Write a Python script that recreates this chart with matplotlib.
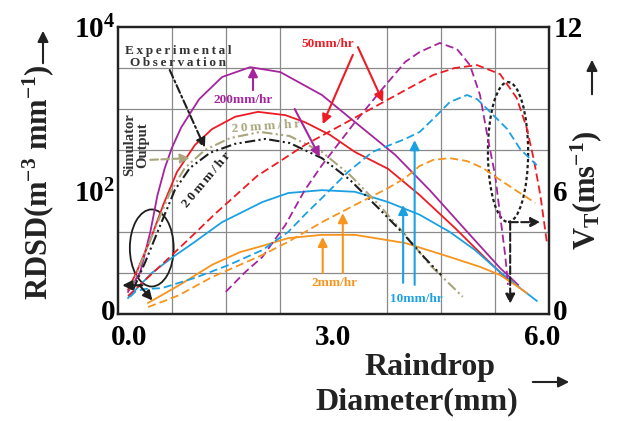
import matplotlib
matplotlib.use('Agg')
import matplotlib.pyplot as plt
from matplotlib.patches import Ellipse, FancyArrowPatch
from matplotlib.transforms import ScaledTranslation
import numpy as np

plt.rcParams['font.family'] = ['Liberation Serif', 'DejaVu Serif']
plt.rcParams['font.weight'] = 'bold'
plt.rcParams['mathtext.default'] = 'regular'

PURPLE = '#a4259d'
RED = '#ed1c24'
BLUE = '#1ba1e2'
ORANGE = '#f7941d'
OLIVE = '#a9a57c'
BLACK = '#1e1e1e'

# y values are plotted in grid rows (0..7); left axis RDSD, right axis V_T
# ---- RDSD, solid lines ----
d_rdsd_200 = [0.14, 0.31, 0.45, 0.55, 0.65, 0.75, 0.88, 1.13, 1.45, 1.84, 2.26, 2.84, 3.30, 3.86, 4.34, 4.90, 5.32, 5.57]
rdsd_200 = [0.54, 1.02, 2.00, 2.90, 3.55, 4.05, 4.55, 5.24, 5.78, 6.02, 5.90, 5.34, 4.68, 3.88, 3.02, 1.93, 1.12, 0.71]

d_rdsd_50 = [0.14, 0.27, 0.45, 0.63, 0.82, 1.07, 1.31, 1.63, 1.95, 2.33, 2.60, 2.95, 3.30, 3.76, 4.20, 4.69, 5.11, 5.46]
rdsd_50 = [0.59, 1.07, 1.81, 2.66, 3.46, 4.12, 4.51, 4.81, 4.93, 4.85, 4.68, 4.37, 3.95, 3.54, 2.90, 2.10, 1.37, 0.78]

d_rdsd_10 = [0.14, 0.31, 0.47, 0.75, 1.07, 1.45, 2.01, 2.37, 2.84, 3.30, 3.76, 4.20, 4.62, 4.97, 5.32, 5.60, 5.83]
rdsd_10 = [0.39, 0.71, 1.00, 1.37, 1.76, 2.24, 2.73, 2.95, 3.02, 2.98, 2.73, 2.42, 2.00, 1.56, 1.02, 0.63, 0.32]

d_rdsd_2 = [0.42, 0.61, 0.86, 1.31, 1.70, 2.01, 2.37, 2.84, 3.30, 4.00, 4.62, 5.04, 5.32, 5.53, 5.69]
rdsd_2 = [0.27, 0.46, 0.71, 1.20, 1.51, 1.66, 1.85, 1.93, 1.93, 1.73, 1.39, 1.15, 0.95, 0.71, 0.51]

# 20 mm/hr: experimental observation and simulator output
d_exp_20 = [0.21, 0.38, 0.59, 0.79, 1.00, 1.28, 1.63, 2.05, 2.39, 2.84, 3.23, 3.65, 3.95, 4.27, 4.50]
exp_20 = [0.59, 1.27, 2.17, 3.02, 3.56, 3.93, 4.15, 4.27, 4.17, 3.80, 3.27, 2.54, 2.00, 1.37, 0.95]

d_sim_20 = [0.17, 0.31, 0.52, 0.72, 0.93, 1.21, 1.56, 1.98, 2.39, 2.84, 3.23, 3.65, 4.00, 4.34, 4.80]
sim_20 = [0.59, 1.20, 2.10, 2.95, 3.56, 4.00, 4.29, 4.44, 4.34, 3.95, 3.39, 2.63, 1.93, 1.20, 0.42]

# ---- terminal velocity, dashed lines ----
d_vt_200 = [1.50, 1.77, 2.01, 2.33, 2.60, 2.84, 3.09, 3.30, 3.68, 4.00, 4.20, 4.48, 4.72, 4.90, 5.04, 5.15, 5.25, 5.32, 5.39, 5.43]
vt_200 = [0.54, 1.02, 1.39, 2.17, 3.02, 3.63, 4.20, 4.68, 5.49, 6.15, 6.39, 6.61, 6.46, 6.07, 5.34, 4.27, 3.39, 2.41, 1.44, 0.71]

d_vt_50 = [0.14, 0.35, 0.65, 1.00, 1.35, 1.63, 1.94, 2.26, 2.60, 3.06, 3.54, 4.00, 4.39, 4.69, 5.00, 5.32, 5.55, 5.69, 5.79, 5.88, 5.97]
vt_50 = [0.44, 0.78, 1.27, 1.85, 2.44, 2.88, 3.37, 3.73, 4.12, 4.56, 5.02, 5.46, 5.83, 6.00, 6.07, 5.85, 5.27, 4.54, 3.76, 2.90, 1.76]

d_vt_10 = [0.17, 0.25, 0.38, 0.61, 1.07, 1.55, 2.01, 2.37, 2.60, 2.84, 3.20, 3.54, 4.00, 4.20, 4.39, 4.62, 4.86, 5.00, 5.18, 5.42, 5.60, 5.83]
vt_10 = [0.42, 0.56, 0.61, 0.63, 0.88, 1.20, 1.56, 2.00, 2.42, 2.83, 3.46, 3.95, 4.27, 4.44, 4.76, 5.17, 5.34, 5.24, 4.93, 4.51, 4.02, 3.63]

d_vt_2 = [0.42, 0.65, 0.85, 1.31, 1.70, 2.01, 2.37, 2.84, 3.30, 3.76, 4.00, 4.20, 4.39, 4.62, 4.86, 5.08, 5.32, 5.57, 5.81]
vt_2 = [0.17, 0.32, 0.46, 0.90, 1.20, 1.44, 1.76, 2.24, 2.66, 3.07, 3.32, 3.61, 3.76, 3.80, 3.73, 3.56, 3.27, 2.98, 2.71]

fig = plt.figure(figsize=(6.21, 4.21), dpi=100)
ax = fig.add_axes([0.19, 0.2542, 0.694, 0.6817])

dash = (0, (4.5, 2.2))
dashdotdot = (0, (5, 1.6, 1, 1.6, 1, 1.6))
lw = 1.3

ax.plot(d_rdsd_200, rdsd_200, color=PURPLE, lw=lw)
ax.plot(d_rdsd_50, rdsd_50, color=RED, lw=lw)
ax.plot(d_rdsd_10, rdsd_10, color=BLUE, lw=lw)
ax.plot(d_rdsd_2, rdsd_2, color=ORANGE, lw=lw)
ax.plot(d_sim_20, sim_20, color=OLIVE, lw=1.5, ls=dashdotdot)
ax.plot(d_exp_20, exp_20, color=BLACK, lw=1.5, ls=dashdotdot)

ax.plot(d_vt_200, vt_200, color=PURPLE, lw=lw, ls=dash)
ax.plot(d_vt_50, vt_50, color=RED, lw=lw, ls=dash)
ax.plot(d_vt_10, vt_10, color=BLUE, lw=lw, ls=dash)
ax.plot(d_vt_2, vt_2, color=ORANGE, lw=lw, ls=dash)

ax.set_xlim(0, 6)
ax.set_ylim(0, 7)
ax.set_xticks([0, 3, 6])
ax.set_xticklabels(['0.0', '3.0', '6.0'], fontsize=21)
ax.set_xticks(np.arange(0, 6.01, 0.75), minor=True)
ax.set_yticks([0, 3, 7])
ax.set_yticklabels(['0', '10$^{2}$', '10$^{4}$'], fontsize=21)
ax.set_yticks(np.arange(0, 8), minor=True)
ax.grid(which='minor', color='#8a8a8a', lw=0.9)
ax.set_axisbelow(True)
ax.tick_params(which='both', length=0)
ax.tick_params(axis='x', pad=7)
ax.tick_params(axis='y', pad=2)
for s in ax.spines.values():
    s.set_linewidth(1.6)
    s.set_color('#222222')

ax2 = ax.twinx()
ax2.set_ylim(0, 7)
ax2.set_yticks([0, 3, 7])
ax2.set_yticklabels(['0', '6', '12'], fontsize=21)
ax2.tick_params(length=0, pad=3)
for s in ax2.spines.values():
    s.set_linewidth(1.6)
    s.set_color('#222222')


def nudge(label, dx, dy):
    # shift a tick label by (dx, dy) pixels
    label.set_transform(label.get_transform() +
                        ScaledTranslation(dx / 100, dy / 100, fig.dpi_scale_trans))


xl = ax.get_xticklabels()
nudge(xl[0], 11, 0)
nudge(xl[2], -7, 0)
nudge(ax.get_yticklabels()[0], 0, 4)
nudge(ax2.get_yticklabels()[0], 0, 4)

# ellipses marking the curve ends
ax.add_patch(Ellipse((0.47, 1.61), 0.61, 1.88, fill=False, ec=BLACK, lw=1.3))
ax.add_patch(Ellipse((5.43, 3.95), 0.56, 3.41, fill=False, ec=BLACK, lw=1.6,
                     ls=(0, (1.5, 1.2))))


def arrow(x0, y0, x1, y1, color, ls='-', lw=1.5, ms=14):
    ax.annotate('', xy=(x1, y1), xytext=(x0, y0),
                arrowprops=dict(arrowstyle='-|>', color=color, lw=lw, ls=ls,
                                mutation_scale=ms, shrinkA=0, shrinkB=0))


arrow(0.34, 0.70, 0.06, 0.70, BLACK)
arrow(0.30, 0.70, 0.48, 0.33, BLACK)
arrow(5.46, 2.24, 5.88, 2.24, BLACK, ls='--')
arrow(5.46, 2.24, 5.46, 0.25, BLACK, ls='--')
arrow(0.72, 5.95, 1.21, 4.05, BLACK, ls=(0, (4, 1.5, 1, 1.5)))
arrow(0.45, 3.76, 1.00, 3.80, OLIVE, ls='--')
arrow(1.88, 5.46, 1.88, 6.02, PURPLE)
arrow(2.46, 5.00, 2.81, 3.83, PURPLE)
arrow(3.27, 6.32, 2.85, 4.63, RED)
arrow(3.34, 6.51, 3.69, 5.17, RED)
arrow(2.85, 1.00, 2.85, 1.88, ORANGE)
arrow(3.13, 1.00, 3.13, 2.46, ORANGE)
arrow(3.97, 0.76, 3.97, 2.66, BLUE)
arrow(4.13, 0.71, 4.13, 4.24, BLUE)


def spaced(s):
    return '\u2009'.join(s)


ax.text(0.84, 6.27, spaced('Experimental') + '\n' + spaced('Observation'),
        ha='center', va='center', fontsize=9.5, color='#333333', linespacing=1.0)
ax.text(0.25, 4.12, 'Simulator\nOutput', rotation=90, ha='center', va='center',
        fontsize=10.5, color='#333333', linespacing=1.0)
ax.text(1.74, 5.22, '200mm/hr', ha='center', va='center', fontsize=9.5, color=PURPLE)
ax.text(2.92, 6.59, '50mm/hr', ha='center', va='center', fontsize=9.5, color=RED)
ax.text(2.06, 4.56, spaced('20mm/hr'), ha='center', va='center', fontsize=9.5,
        color=OLIVE, rotation=4)
ax.text(1.24, 3.27, spaced('20mm/hr'), ha='center', va='center', fontsize=9.5,
        color=BLACK, rotation=50)
ax.text(3.01, 0.76, '2mm/hr', ha='center', va='center', fontsize=9.5, color=ORANGE)
ax.text(4.15, 0.37, '10mm/hr', ha='center', va='center', fontsize=9.5, color=BLUE)

# axis titles and their arrows, placed in figure pixels
W, H = 621, 421


def fx(px):
    return px / W


def fy(py):
    return 1 - py / H


fig.text(fx(38), fy(182), 'RDSD(m$^{-3}$ mm$^{-1}$)', rotation=90, ha='center',
         va='center', fontsize=22, color='#222222')
fig.text(fx(586), fy(190), 'V$_{T}$(ms$^{-1}$)', rotation=90, ha='center',
         va='center', fontsize=22, color='#222222')
fig.text(fx(430), fy(368), 'Raindrop', ha='center', va='center', fontsize=23,
         color='#222222')
fig.text(fx(417), fy(402), 'Diameter(mm)', ha='center', va='center', fontsize=23,
         color='#222222')

for (x0, y0, x1, y1) in [(43, 66, 43, 28), (592, 97, 592, 57), (530, 382, 572, 382)]:
    fig.add_artist(FancyArrowPatch(
        (fx(x0), fy(y0)), (fx(x1), fy(y1)), transform=fig.transFigure,
        arrowstyle='-|>', mutation_scale=16, lw=1.5, color='#222222'))

fig.savefig('out.png', dpi=100)
